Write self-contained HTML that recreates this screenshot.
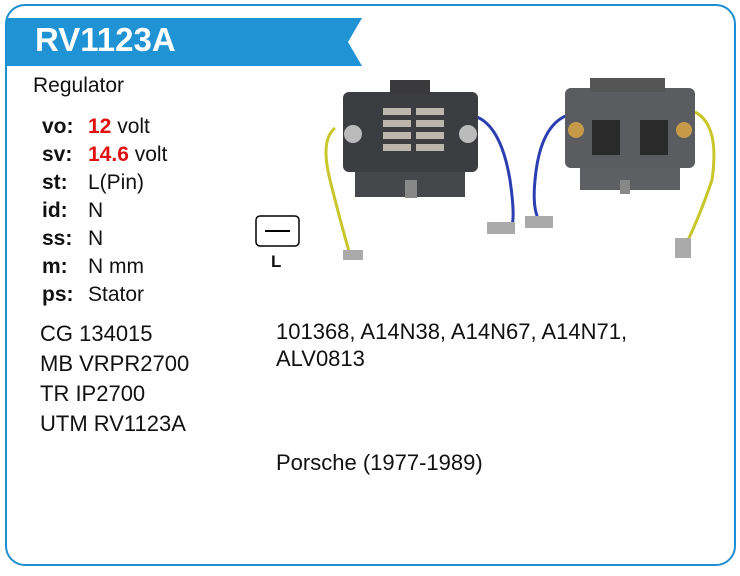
<!DOCTYPE html>
<html><head><meta charset="utf-8"><style>
body{margin:0;background:#fff;width:740px;height:576px;overflow:hidden;font-family:"Liberation Sans",Arial,sans-serif;}
.frame{position:absolute;left:5px;top:4px;width:727px;height:558px;border:2px solid #1e8fd0;border-radius:20px;}
.t{position:absolute;font-size:21px;color:#111;white-space:nowrap;}
.u{font-size:22px;}
.b{font-weight:bold;}
.r{color:#e01010;font-weight:bold;}
</style></head><body>
<div class="frame"></div>
<svg style="position:absolute;left:0;top:0" width="740" height="576">
<polygon points="7,18 362,18 348,42 362,66 7,66" fill="#1f93d3"/>
<rect x="256" y="216" width="43" height="30" rx="4" fill="#fff" stroke="#000" stroke-width="1.5"/>
<line x1="265" y1="231" x2="290" y2="231" stroke="#000" stroke-width="2"/>
<path d="M335,128 Q320,140 330,180 Q340,220 350,255" stroke="#c8c62a" stroke-width="3" fill="none"/>
<path d="M470,115 Q500,120 510,180 Q515,215 512,225" stroke="#2b3fb0" stroke-width="3" fill="none"/>
<rect x="343" y="92" width="135" height="80" rx="6" fill="#3c3d40"/>
<rect x="355" y="172" width="110" height="25" fill="#46474a"/>
<rect x="390" y="80" width="40" height="14" fill="#3a3a3c"/>
<circle cx="353" cy="134" r="9" fill="#bbb"/><circle cx="468" cy="134" r="9" fill="#bbb"/>
<g fill="#bdb6ac"><rect x="383" y="108" width="28" height="7"/><rect x="416" y="108" width="28" height="7"/><rect x="383" y="120" width="28" height="7"/><rect x="416" y="120" width="28" height="7"/><rect x="383" y="132" width="28" height="7"/><rect x="416" y="132" width="28" height="7"/><rect x="383" y="144" width="28" height="7"/><rect x="416" y="144" width="28" height="7"/></g>
<rect x="405" y="180" width="12" height="18" fill="#888"/>
<rect x="343" y="250" width="20" height="10" fill="#aaa"/>
<rect x="487" y="222" width="28" height="12" fill="#aaa"/>
<path d="M568,115 Q540,125 535,180 Q532,210 540,222" stroke="#2b3fb0" stroke-width="3" fill="none"/>
<path d="M695,112 Q720,125 712,180 Q700,215 688,240" stroke="#c8c62a" stroke-width="3" fill="none"/>
<rect x="565" y="88" width="130" height="80" rx="6" fill="#5b5c60"/>
<rect x="580" y="168" width="100" height="22" fill="#5e5f63"/>
<rect x="590" y="78" width="75" height="14" fill="#555"/>
<circle cx="576" cy="130" r="8" fill="#c79a4a"/><circle cx="684" cy="130" r="8" fill="#c79a4a"/>
<rect x="592" y="120" width="28" height="35" fill="#2a2a2a"/><rect x="640" y="120" width="28" height="35" fill="#2a2a2a"/>
<rect x="620" y="180" width="10" height="14" fill="#888"/>
<rect x="525" y="216" width="28" height="12" fill="#aaa"/>
<rect x="675" y="238" width="16" height="20" fill="#aaa"/>
</svg>
<div class="t b" style="left:35px;top:21px;font-size:33px;color:#fff;">RV1123A</div>
<div class="t" style="left:33px;top:74px;">Regulator</div>
<div class="t b" style="left:42px;top:115px;">vo:</div><div class="t" style="left:88px;top:115px;"><span class="r">12</span> volt</div>
<div class="t b" style="left:42px;top:143px;">sv:</div><div class="t" style="left:88px;top:143px;"><span class="r">14.6</span> volt</div>
<div class="t b" style="left:42px;top:171px;">st:</div><div class="t" style="left:88px;top:171px;">L(Pin)</div>
<div class="t b" style="left:42px;top:199px;">id:</div><div class="t" style="left:88px;top:199px;">N</div>
<div class="t b" style="left:42px;top:227px;">ss:</div><div class="t" style="left:88px;top:227px;">N</div>
<div class="t b" style="left:42px;top:255px;">m:</div><div class="t" style="left:88px;top:255px;">N mm</div>
<div class="t b" style="left:42px;top:283px;">ps:</div><div class="t" style="left:88px;top:283px;">Stator</div>
<div class="t b" style="left:271px;top:252px;font-size:17px;">L</div>
<div class="t u" style="left:40px;top:321px;">CG 134015</div>
<div class="t u" style="left:40px;top:351px;">MB VRPR2700</div>
<div class="t u" style="left:40px;top:381px;">TR IP2700</div>
<div class="t u" style="left:40px;top:411px;">UTM RV1123A</div>
<div class="t u" style="left:276px;top:319px;">101368, A14N38, A14N67, A14N71,</div>
<div class="t u" style="left:276px;top:346px;">ALV0813</div>
<div class="t u" style="left:276px;top:450px;">Porsche (1977-1989)</div>
</body></html>
